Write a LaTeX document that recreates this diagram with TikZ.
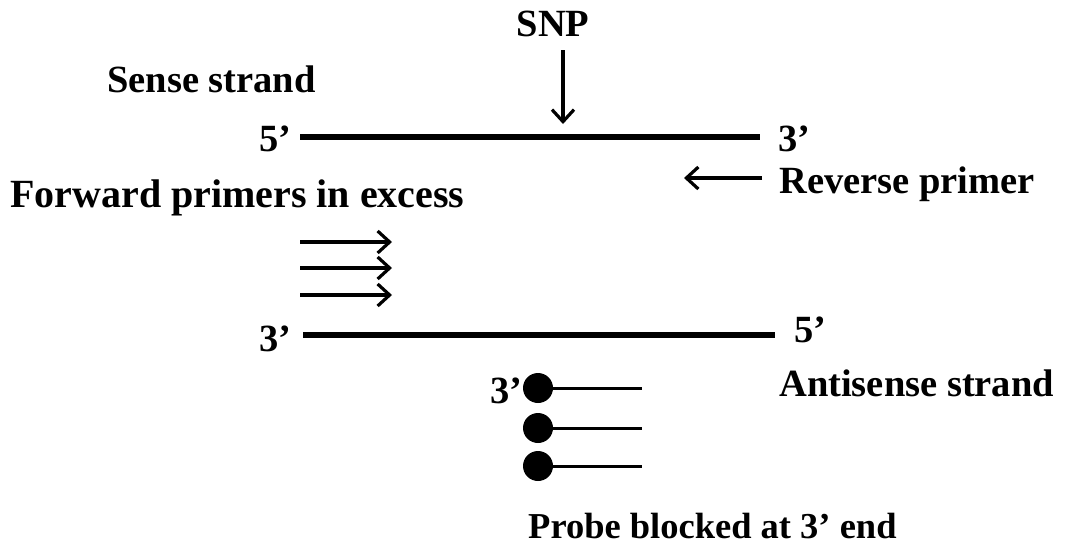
\documentclass[tikz,border=0pt]{standalone}
\usepackage{fontspec}
\setmainfont{Liberation Serif}
\usetikzlibrary{arrows.meta}
\begin{document}
\begin{tikzpicture}[x=1pt,y=-1pt,
  lbl/.style={font=\fontsize{38.5}{44}\selectfont\bfseries, inner sep=0pt, anchor=west},
  strand/.style={line width=5.5pt},
  primer/.style={line width=3.2pt, -{Straight Barb[length=12pt,width=22pt,line width=3.2pt]}},
  probeline/.style={line width=3pt},
  blocker/.style={circle, fill=black, minimum size=30pt, inner sep=0pt}]
\useasboundingbox (0,0) rectangle (1066,550);

% SNP marker
\node[lbl, anchor=center] (snp) at (553,24) {SNP};
\coordinate (snptop) at (563,50);
\coordinate (snptip) at (563,124);
\draw[primer] (snptop) -- (snptip);

% sense strand
\node[lbl] (sense) at (107,79) {Sense strand};
\node[lbl, anchor=east] (s5) at (292,139) {5’};
\node[lbl] (s3) at (778,139) {3’};
\coordinate (sL) at (300,137);
\coordinate (sR) at (760,137);
\draw[strand] (sL) -- (sR);

% reverse primer
\coordinate (rpA) at (762,178);
\coordinate (rpB) at (684,178);
\draw[primer] (rpA) -- (rpB);
\node[lbl] (rev) at (779,184) {Reverse primer};

% forward primers
\node[lbl, font=\fontsize{40}{46}\selectfont\bfseries] (fwd) at (10,198) {Forward primers in excess};
\foreach \y [count=\i] in {242,268,295}{
  \coordinate (fA\i) at (300,\y);
  \coordinate (fB\i) at (392,\y);
  \draw[primer] (fA\i) -- (fB\i);
}

% antisense strand
\node[lbl, anchor=east] (a3) at (292,339) {3’};
\node[lbl] (a5) at (794,330) {5’};
\coordinate (aL) at (303,335);
\coordinate (aR) at (775,335);
\draw[strand] (aL) -- (aR);
\node[lbl] (anti) at (779,383) {Antisense strand};

% blocked probes
\foreach \y [count=\i] in {388,428,466}{
  \node[blocker] (p\i) at (538,\y) {};
  \coordinate (pe\i) at (642,\y);
  \draw[probeline] (p\i.center) -- (pe\i);
}
\node[lbl, anchor=east] (p3) at (523,391) {3’};
\node[lbl, font=\fontsize{36.5}{42}\selectfont\bfseries] (probe) at (528,526) {Probe blocked at 3’ end};
\end{tikzpicture}
\end{document}
